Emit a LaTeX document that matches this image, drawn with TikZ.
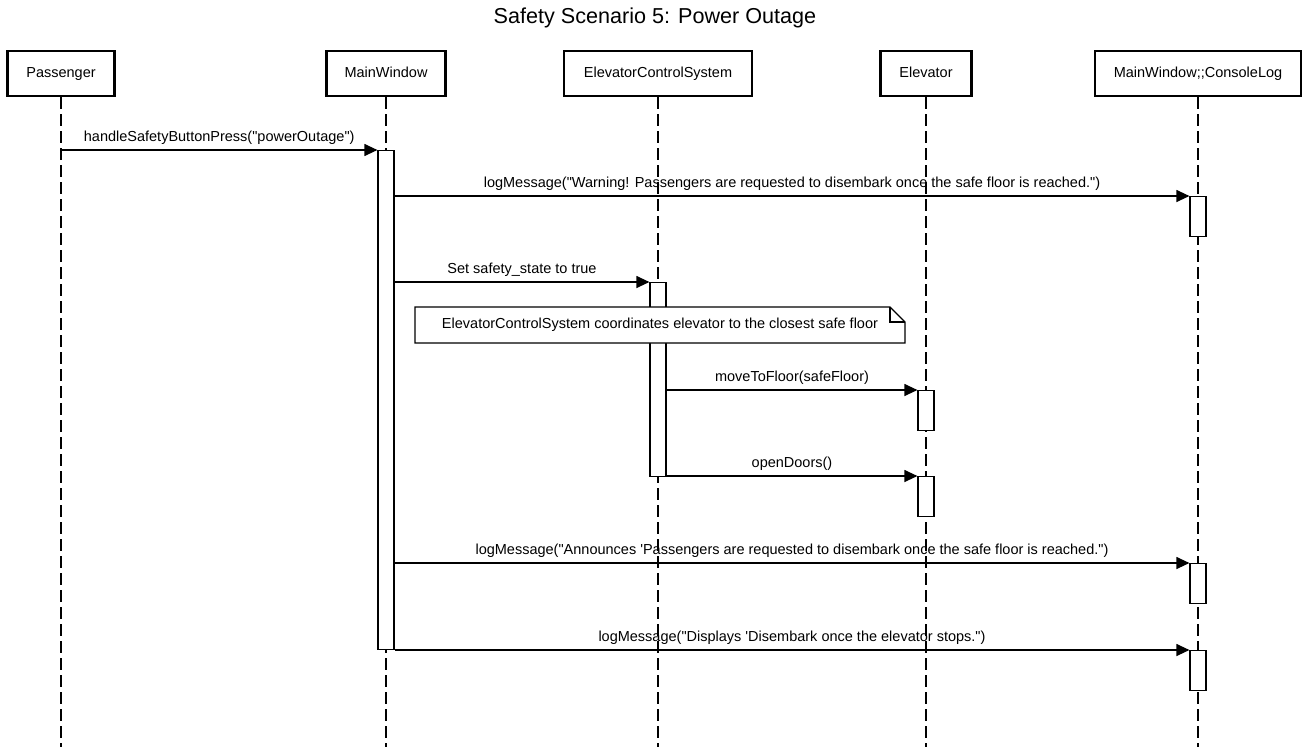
\documentclass[tikz,border=0pt]{standalone}
\usepackage{fontspec}
\setmainfont{Liberation Sans}[Ligatures=TeXOff]
\usetikzlibrary{arrows.meta}
\begin{document}
\begin{tikzpicture}[x=1pt, y=-1pt, font=\fontsize{14.5}{17}\selectfont]
			\useasboundingbox (0,0) rectangle (1309,747);
			\newcommand{\participant}[4]{
				% draws a participant box and its lifeline
				% args:
				%     name
				%     x of the lifeline
				%     box width
				%     label
				\node[draw, line width=2.2pt, minimum width=#3, minimum height=45, inner sep=0pt, text height=10.5pt, text depth=3pt] (#1) at (#2, 73.5) {#4};
				\coordinate (end_#1) at (#2, 747);
				\draw[dash pattern=on 12pt off 5pt, line width=1.2pt] (#1.south) -- (end_#1);
			}
			\newcommand{\activation}[4]{
				% args:
				%     name
				%     x of the lifeline
				%     top y
				%     bottom y
				\node[draw, fill=white, line width=1.2pt, minimum width=16, minimum height=#4-#3, inner sep=0pt, anchor=north] (#1) at (#2, #3) {};
			}
			\newcommand{\callMsg}[3]{
				% args:
				%     from point
				%     to point
				%     label
				\draw[-{Triangle[length=13pt, width=12pt]}, line width=1.2pt] (#1) -- node[above=4pt, inner sep=0pt, text depth=3.5pt] {#3} (#2);
			}
			%
			% title
			\node (title) at (655, 18) {\fontsize{21.6}{26}\selectfont Safety Scenario 5: Power Outage};
			% participants with lifelines
			\participant{pass}{61}{107}{Passenger}
			\participant{mw}{386}{119}{MainWindow}
			\participant{ecs}{658}{188}{ElevatorControlSystem}
			\participant{elev}{926}{91}{Elevator}
			\participant{clog}{1198}{206}{MainWindow;;ConsoleLog}
			% activation bars
			\activation{mwAct}{386}{150}{649}
			\activation{clog1}{1198}{196}{236}
			\activation{ecsAct}{658}{282}{476}
			\activation{elev1}{926}{390}{430}
			\activation{elev2}{926}{476}{516}
			\activation{clog2}{1198}{563}{603}
			\activation{clog3}{1198}{650}{690}
			% note over the control system, drawn white so it hides the bar
			\coordinate (noteNW) at (415, 307);
			\coordinate (noteSE) at (905, 343);
			\draw[line width=1.2pt, fill=white] (noteNW) -- (890, 307) -- (905, 322) -- (noteSE) -- (415, 343) -- cycle;
			\draw[line width=1.2pt] (890, 307) -- (890, 322) -- (905, 322);
			\node[text height=10.5pt, text depth=3pt] (note) at (660, 325) {ElevatorControlSystem coordinates elevator to the closest safe floor};
			% messages
			\callMsg{mwAct.north west -| pass.south}{mwAct.north west}{handleSafetyButtonPress("powerOutage")}
			\callMsg{mwAct.east |- clog1.north}{clog1.north west}{logMessage("Warning! Passengers are requested to disembark once the safe floor is reached.")}
			\callMsg{mwAct.east |- ecsAct.north}{ecsAct.north west}{Set safety\_state to true}
			\callMsg{ecsAct.east |- elev1.north}{elev1.north west}{moveToFloor(safeFloor)}
			\callMsg{ecsAct.east |- elev2.north}{elev2.north west}{openDoors()}
			\callMsg{mwAct.east |- clog2.north}{clog2.north west}{logMessage("Announces 'Passengers are requested to disembark once the safe floor is reached.")}
			\callMsg{mwAct.east |- clog3.north}{clog3.north west}{logMessage("Displays 'Disembark once the elevator stops.")}
		\end{tikzpicture}
\end{document}
